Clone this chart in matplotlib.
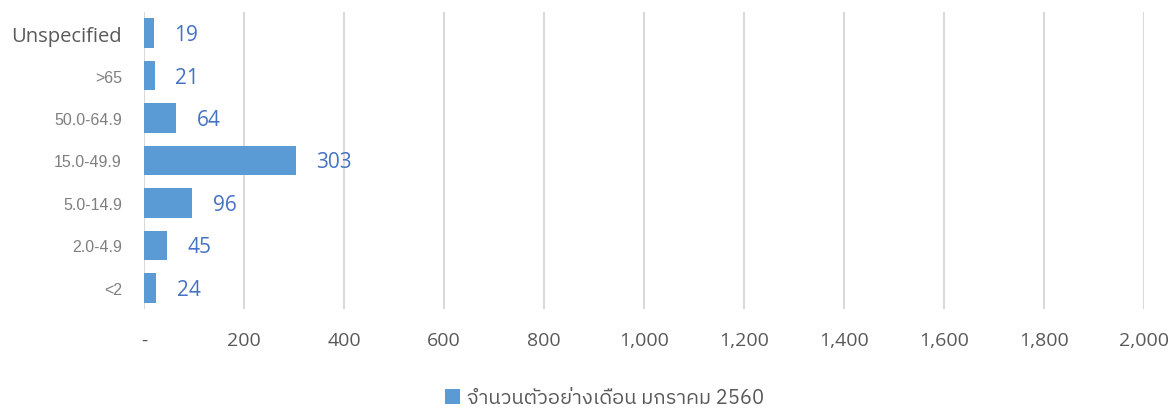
import matplotlib.pyplot as plt
import numpy as np

# data (bottom to top)
groups = ['<2', '2.0-4.9', '5.0-14.9', '15.0-49.9', '50.0-64.9', '>65', 'Unspecified']
counts = [24, 45, 96, 303, 64, 21, 19]
series_name = 'จำนวนตัวอย่างเดือน มกราคม 2560'
xticks = [0, 200, 400, 600, 800, 1000, 1200, 1400, 1600, 1800, 2000]

bar_col = '#5B9BD5'
lab_col = '#4472C4'

fig = plt.figure(figsize=(11.74, 4.10), dpi=100)
ax = fig.add_axes([0.1227, 0.2439, 0.8517, 0.7244])

y = np.arange(len(groups))
bars = ax.barh(y, counts, height=0.7, color=bar_col, label=series_name, zorder=3)

# value labels to the right of each bar
for yi, v in zip(y, counts):
    ax.annotate(str(v), (v, yi), xytext=(15, -1), textcoords='offset points',
                va='center', ha='left', fontsize=15, color=lab_col,
                family=['Open Sans', 'DejaVu Sans'])

ax.set_xlim(0, 2000)
ax.set_ylim(-0.5, len(groups) - 0.5)
ax.set_xticks(xticks)
ax.set_xticklabels(['-' if t == 0 else f'{t:,}' for t in xticks],
                   fontsize=14, color='#595959', family=['Open Sans', 'DejaVu Sans'])
ax.set_yticks(y)
ax.set_yticklabels(groups, fontsize=11.5, color='#7f7f7f', family=['Liberation Sans', 'DejaVu Sans'])
top = ax.get_yticklabels()[-1]
top.set_fontsize(14.5)
top.set_color('#595959')
top.set_family(['Open Sans', 'DejaVu Sans'])

ax.tick_params(axis='x', length=0, pad=16)
ax.tick_params(axis='y', length=0, pad=16)
for s in ax.spines.values():
    s.set_visible(False)
ax.grid(axis='x', color='#d9d9d9', linewidth=1.5, zorder=0)

fig.legend(handles=[bars], labels=[series_name], loc='center', bbox_to_anchor=(0.515, 0.027),
           frameon=False, handlelength=0.75, handleheight=0.75, handletextpad=0.35,
           prop={'family': ['IBM Plex Sans Thai', 'DejaVu Sans'], 'size': 14.5}, labelcolor='#595959')

fig.savefig('out.png', dpi=100)
